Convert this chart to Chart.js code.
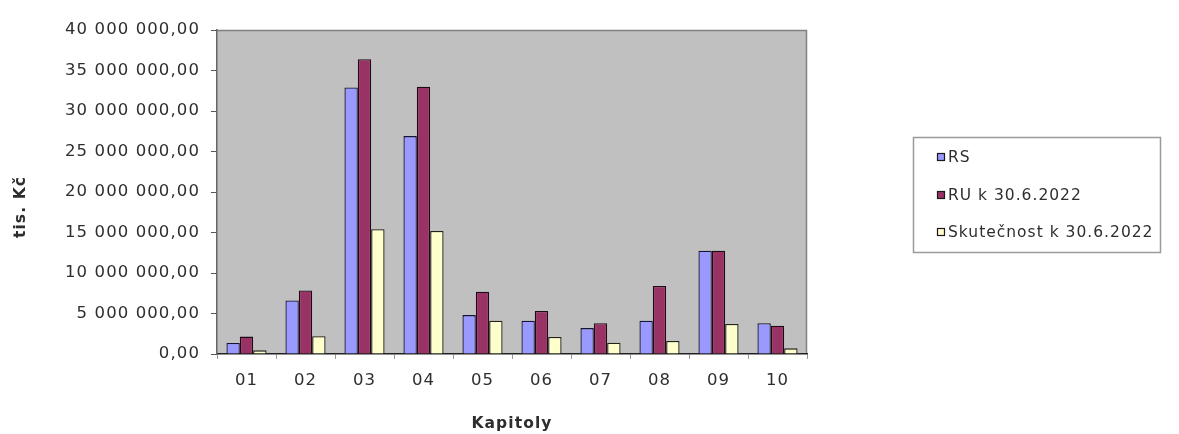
<!DOCTYPE html>
<html>
<head>
<meta charset="utf-8">
<script src="https://cdn.jsdelivr.net/npm/chart.js@4/dist/chart.umd.min.js"></script>
<style>
html,body{margin:0;padding:0;background:#fff;}
#wrap{width:1179px;height:434px;}
</style>
</head>
<body>
<div id="wrap"><canvas id="c" width="1179" height="434"></canvas></div>
<script>
const categories = ['01','02','03','04','05','06','07','08','09','10'];
const seriesNames = ['RS','RU k 30.6.2022','Skutečnost k 30.6.2022'];
const rsValues = [1350000, 6600000, 32900000, 26900000, 4800000, 4100000, 3200000, 4100000, 12750000, 3800000];
const ruValues = [2150000, 7850000, 36400000, 33000000, 7700000, 5300000, 3800000, 8400000, 12750000, 3500000];
const skValues = [450000, 2200000, 15400000, 15200000, 4100000, 2100000, 1400000, 1600000, 3700000, 700000];
const yAxisTitle = 'tis. Kč';
const xAxisTitle = 'Kapitoly';
const yMin = 0, yMax = 40000000, yStep = 5000000;

const fillColors = ['#9999FF', '#993366', '#FFFFCC'];
const borderColors = ['#14143a', '#1e0a14', '#222216'];
const FONT = '"DejaVu Sans", "Liberation Sans", sans-serif';
const TEXT = '#2e2e2e';
const SPACING = '1.1px';

function fmt(v){
  const s = Math.round(v).toString().replace(/\B(?=(\d{3})+(?!\d))/g, ' ');
  return s + ',00';
}

const spacingPlugin = {
  id: 'spacing',
  beforeUpdate(chart){ chart.ctx.letterSpacing = SPACING; },
  beforeDraw(chart){
    const ctx = chart.ctx;
    ctx.letterSpacing = SPACING;
    const a = chart.chartArea;
    ctx.save();
    ctx.fillStyle = '#C0C0C0';
    ctx.fillRect(a.left, a.top, a.right - a.left, a.bottom - a.top);
    ctx.strokeStyle = '#808080';
    ctx.lineWidth = 1.5;
    ctx.beginPath();
    ctx.moveTo(a.left, a.top + 0.5);
    ctx.lineTo(a.right - 0.5, a.top + 0.5);
    ctx.lineTo(a.right - 0.5, a.bottom);
    ctx.stroke();
    ctx.restore();
  },
  afterDraw(chart){
    const ctx = chart.ctx;
    const a = chart.chartArea;
    ctx.save();
    ctx.letterSpacing = SPACING;
    // y axis title
    ctx.translate(21, (a.top + a.bottom) / 2 + 15);
    ctx.rotate(-Math.PI / 2);
    ctx.font = 'bold 15.5px ' + FONT;
    ctx.fillStyle = TEXT;
    ctx.textAlign = 'center';
    ctx.textBaseline = 'middle';
    ctx.fillText(yAxisTitle, 0, 0);
    ctx.restore();

    // legend
    ctx.save();
    ctx.letterSpacing = '1px';
    const lx = 913, ly = 137, lw = 247, lh = 115;
    ctx.fillStyle = '#ffffff';
    ctx.fillRect(lx, ly, lw, lh);
    ctx.strokeStyle = '#9a9a9a';
    ctx.lineWidth = 1.5;
    ctx.strokeRect(lx + 0.5, ly + 0.5, lw, lh);
    ctx.font = '15.5px ' + FONT;
    ctx.textBaseline = 'middle';
    ctx.textAlign = 'left';
    const rows = [157, 195, 232];
    chart.data.datasets.forEach((ds, i) => {
      const cy = rows[i];
      ctx.fillStyle = ds.backgroundColor;
      ctx.fillRect(937, cy - 4, 8, 8);
      ctx.strokeStyle = '#1a1a1a';
      ctx.lineWidth = 1.2;
      ctx.strokeRect(937.5, cy - 3.5, 7, 7);
      ctx.fillStyle = TEXT;
      ctx.fillText(ds.label, 948, cy + 1);
    });
    ctx.restore();
  }
};

new Chart(document.getElementById('c'), {
  type: 'bar',
  data: {
    labels: categories,
    datasets: [
      { label: seriesNames[0], data: rsValues, backgroundColor: fillColors[0], borderColor: borderColors[0], borderWidth: 1.3 },
      { label: seriesNames[1], data: ruValues, backgroundColor: fillColors[1], borderColor: borderColors[1], borderWidth: 1.3 },
      { label: seriesNames[2], data: skValues, backgroundColor: fillColors[2], borderColor: borderColors[2], borderWidth: 1.3 }
    ]
  },
  options: {
    responsive: false,
    devicePixelRatio: 1,
    animation: false,
    categoryPercentage: 0.68,
    barPercentage: 1.0,
    layout: { padding: { left: 0, top: 30, right: 372, bottom: 0 } },
    plugins: {
      legend: { display: false },
      tooltip: { enabled: false }
    },
    scales: {
      x: {
        grid: { drawOnChartArea: false, drawTicks: true, tickLength: 5, color: '#999', offset: true },
        border: { display: true, color: '#222', width: 1.5 },
        ticks: { color: TEXT, font: { family: FONT, size: 16.5 }, padding: 12, maxRotation: 0 },
        title: { display: true, text: xAxisTitle, color: TEXT, font: { family: FONT, size: 15.5, weight: 'bold' }, padding: { top: 0, bottom: 1 } },
        afterFit(scale){ scale.height = 80; }
      },
      y: {
        min: yMin, max: yMax,
        grid: { drawOnChartArea: false, drawTicks: true, tickLength: 6, color: '#555' },
        border: { display: true, color: '#666', width: 1.5 },
        ticks: { stepSize: yStep, color: TEXT, font: { family: FONT, size: 16.5 }, padding: 11, callback: (v) => fmt(v) },
        title: { display: false },
        afterFit(scale){ scale.width = 217; }
      }
    }
  },
  plugins: [spacingPlugin]
});
</script>
</body>
</html>
